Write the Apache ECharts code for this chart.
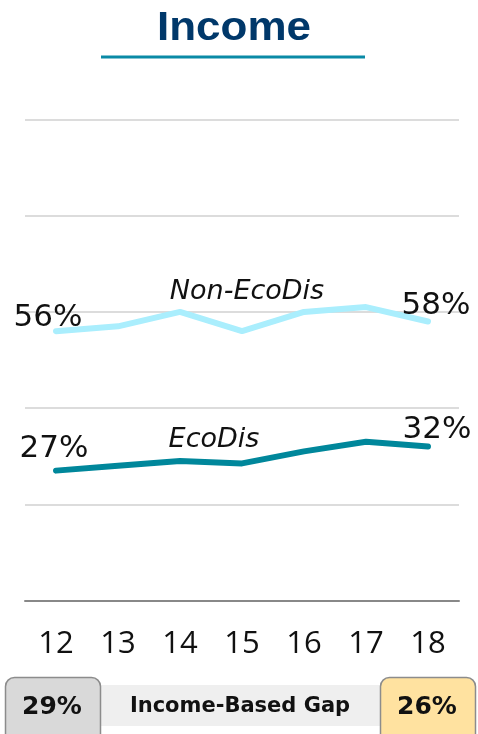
<!DOCTYPE html>
<html>
<head>
<meta charset="utf-8">
<title>Income</title>
<script src="https://cdn.jsdelivr.net/npm/echarts@6/dist/echarts.min.js"></script>
<style>
  html, body { margin: 0; padding: 0; background: #ffffff; }
  #chart { width: 478px; height: 734px; }
</style>
</head>
<body>
<div id="chart"></div>
<script>
// School years on the x axis
const years = ['12', '13', '14', '15', '16', '17', '18'];
// Share of students meeting the benchmark, in percent
const nonEcoDis = [56, 57, 60, 56, 60, 61, 58];
const ecoDis = [27, 28, 29, 28.5, 31, 33, 32];
// Gap between the two groups at the first and last year
const gapStart = '29%';
const gapEnd = '26%';
const gapTitle = 'Income-Based Gap';

const FONT = '"Open Sans", "Noto Sans", sans-serif';
const WIDE_FONT = '"DejaVu Sans", Verdana, sans-serif';

// Label only the first and last point of a series with its value
function endLabels(values, firstOffset, lastOffset) {
  return values.map(function (v, i) {
    const item = { value: v };
    if (i === 0 || i === values.length - 1) {
      item.label = {
        show: true,
        position: 'inside',
        offset: i === 0 ? firstOffset : lastOffset,
        formatter: Math.round(v) + '%',
        fontFamily: WIDE_FONT,
        fontSize: 31,
        color: '#111111'
      };
    }
    return item;
  });
}

// Series name written above the line near the third year
function nameLabel(item, name, offset) {
  item.label = {
    show: true,
    position: 'inside',
    offset: offset,
    formatter: name,
    fontFamily: WIDE_FONT,
    fontStyle: 'italic',
    fontSize: 27,
    color: '#111111'
  };
  return item;
}

const nonData = endLabels(nonEcoDis, [-8, -13], [8, -16]);
nonData[2] = nameLabel(nonData[2], 'Non-EcoDis', [67, -20]);
const ecoData = endLabels(ecoDis, [-2, -22], [9, -17]);
ecoData[2] = nameLabel(ecoData[2], 'EcoDis', [34, -21]);

const chart = echarts.init(document.getElementById('chart'), null, { renderer: 'canvas' });

chart.setOption({
  backgroundColor: '#ffffff',
  animation: false,
  grid: { left: 25, right: 19, top: 119.5, bottom: 133.5 },
  xAxis: {
    type: 'category',
    data: years,
    boundaryGap: true,
    axisLine: { show: true, lineStyle: { color: '#888888', width: 2 } },
    axisTick: { show: false },
    axisLabel: { fontFamily: FONT, fontSize: 31, color: '#111111', margin: 28 }
  },
  yAxis: {
    type: 'value',
    min: 0,
    max: 100,
    interval: 20,
    axisLine: { show: false },
    axisTick: { show: false },
    axisLabel: { show: false },
    splitLine: { lineStyle: { color: '#dcdcdc', width: 2 } }
  },
  series: [
    {
      name: 'Non-EcoDis',
      type: 'line',
      data: nonData,
      symbol: 'circle',
      symbolSize: 0,
      showSymbol: true,
      lineStyle: { color: '#aaeefd', width: 6, cap: 'round' },
      itemStyle: { color: '#aaeefd' },
      z: 3
    },
    {
      name: 'EcoDis',
      type: 'line',
      data: ecoData,
      symbol: 'circle',
      symbolSize: 0,
      showSymbol: true,
      lineStyle: { color: '#00879b', width: 6, cap: 'round' },
      itemStyle: { color: '#00879b' },
      z: 3
    }
  ],
  graphic: [
    {
      type: 'text',
      x: 234,
      y: 28.5,
      scaleX: 1.1,
      style: {
        text: 'Income',
        fontFamily: '"Liberation Sans", Arial, sans-serif',
        fontWeight: 'bold',
        fontSize: 40,
        fill: '#00386a',
        align: 'center',
        verticalAlign: 'middle'
      }
    },
    {
      type: 'rect',
      shape: { x: 101, y: 55.5, width: 264, height: 3 },
      style: { fill: '#0a8aa6' }
    },
    // gap band between the two value boxes
    {
      type: 'rect',
      shape: { x: 96, y: 685, width: 290, height: 41 },
      style: { fill: '#efefef' }
    },
    {
      type: 'text',
      x: 240,
      y: 707,
      style: {
        text: gapTitle,
        fontFamily: WIDE_FONT,
        fontWeight: 'bold',
        fontSize: 21,
        fill: '#111111',
        align: 'center',
        verticalAlign: 'middle'
      }
    },
    {
      type: 'rect',
      shape: { x: 5.5, y: 677.5, width: 95, height: 70, r: 9 },
      style: { fill: '#d9d9d9', stroke: '#8c8c8c', lineWidth: 1.5 }
    },
    {
      type: 'text',
      x: 52,
      y: 707,
      style: {
        text: gapStart,
        fontFamily: WIDE_FONT,
        fontWeight: 'bold',
        fontSize: 25,
        fill: '#111111',
        align: 'center',
        verticalAlign: 'middle'
      }
    },
    {
      type: 'rect',
      shape: { x: 380.5, y: 677.5, width: 95, height: 70, r: 9 },
      style: { fill: '#ffe2a0', stroke: '#8c8c8c', lineWidth: 1.5 }
    },
    {
      type: 'text',
      x: 427,
      y: 707,
      style: {
        text: gapEnd,
        fontFamily: WIDE_FONT,
        fontWeight: 'bold',
        fontSize: 25,
        fill: '#111111',
        align: 'center',
        verticalAlign: 'middle'
      }
    }
  ]
});
</script>
</body>
</html>
